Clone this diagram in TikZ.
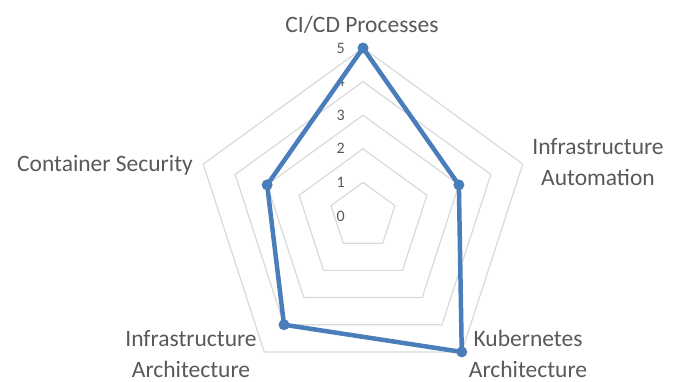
\documentclass[tikz,border=0pt]{standalone}
\usepackage{fontspec}
\setmainfont{Carlito}
\usetikzlibrary{positioning, calc}
\definecolor{ChartBlau}{RGB}{74,126,187}
\definecolor{GridGrau}{RGB}{217,217,217}
\definecolor{TextGrau}{RGB}{89,89,89}

\begin{document}
\begin{tikzpicture}[x=1pt, y=1pt,
    tick/.style={TextGrau, font=\fontsize{16}{16}\selectfont, anchor=east, inner sep=0},
    axislabel/.style={TextGrau, font=\fontsize{23.5}{31}\selectfont, align=center, anchor=base, inner sep=0}]
\useasboundingbox (-363,-165) rectangle (316,216);
% grid rings and scale
\foreach \r in {1,...,5}
{
    \draw[GridGrau, line width=1.2] (90:33.6*\r) -- (18:33.6*\r) -- (-54:33.6*\r) -- (-126:33.6*\r) -- (162:33.6*\r) -- cycle;
}
\foreach \r in {0,...,5}
{
    \node[tick] (t\r) at (-18, 33.6*\r) {\r};
}
% data
\foreach \a/\v [count=\x] in {90/5, 18/3, -54/5, -126/4, 162/3}
{
    \coordinate (p\x) at (\a:33.6*\v);
}
\draw[ChartBlau, line width=4.5, line join=round] (p1) -- (p2) -- (p3) -- (p4) -- (p5) -- cycle;
\foreach \x in {1,...,5}
{
    \fill[ChartBlau] (p\x) circle (5.5);
}
% axis labels (base = last line)
\node[axislabel] (cicd) at (-1, 184) {CI/CD Processes};
\node[axislabel] (auto) at (235, 31) {Infrastructure\\Automation};
\node[axislabel] (kube) at (165, -161) {Kubernetes\\Architecture};
\node[axislabel] (arch) at (-172, -161) {Infrastructure\\Architecture};
\node[axislabel] (sec) at (-258, 45) {Container Security};
\end{tikzpicture}
\end{document}
